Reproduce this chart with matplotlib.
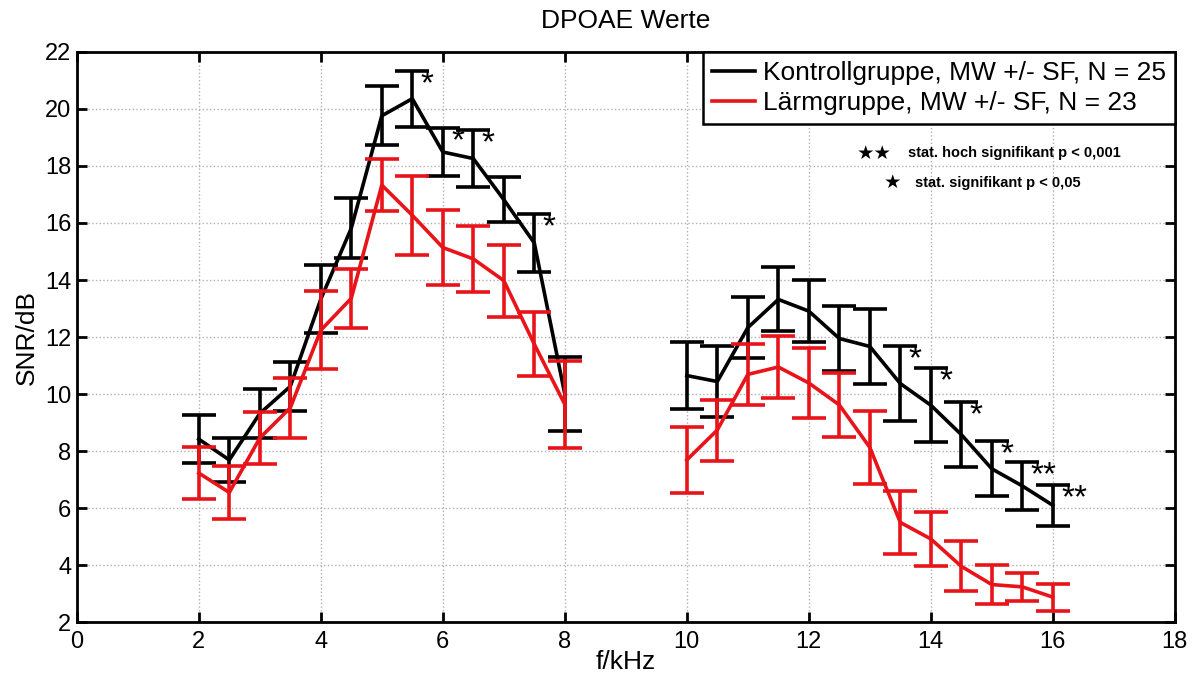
import numpy as np
import matplotlib
matplotlib.use('Agg')
import matplotlib.pyplot as plt

plt.rcParams['font.family'] = ['Liberation Sans', 'DejaVu Sans']

# Frequencies (kHz), two measured ranges
freq_low = [2, 2.5, 3, 3.5, 4, 4.5, 5, 5.5, 6, 6.5, 7, 7.5, 8]
freq_high = [10, 10.5, 11, 11.5, 12, 12.5, 13, 13.5, 14, 14.5, 15, 15.5, 16]

# Kontrollgruppe: mean and standard error
ctrl_low = [8.42, 7.69, 9.32, 10.27, 13.33, 15.82, 19.76, 20.36, 18.49, 18.26, 16.82, 15.3, 10.0]
ctrl_low_err = [0.83, 0.77, 0.85, 0.87, 1.2, 1.05, 1.04, 0.98, 0.83, 1.0, 0.79, 1.01, 1.3]
ctrl_high = [10.65, 10.44, 12.33, 13.32, 12.91, 11.95, 11.67, 10.37, 9.61, 8.58, 7.38, 6.78, 6.1]
ctrl_high_err = [1.17, 1.23, 1.07, 1.12, 1.1, 1.15, 1.33, 1.3, 1.29, 1.14, 0.97, 0.84, 0.72]

# Laermgruppe: mean and standard error
noise_low = [7.23, 6.55, 8.46, 9.52, 12.24, 13.36, 17.33, 16.27, 15.14, 14.74, 13.98, 11.75, 9.64]
noise_low_err = [0.91, 0.93, 0.91, 1.05, 1.37, 1.03, 0.92, 1.38, 1.31, 1.15, 1.26, 1.13, 1.52]
noise_high = [7.69, 8.74, 10.69, 10.95, 10.39, 9.62, 8.13, 5.5, 4.92, 3.96, 3.32, 3.24, 2.88]
noise_high_err = [1.16, 1.07, 1.07, 1.1, 1.22, 1.11, 1.28, 1.11, 0.94, 0.88, 0.68, 0.5, 0.47]

# Significance marks for the control group
sig_low = ['', '', '', '', '', '', '', '*', '*', '*', '', '*', '']
sig_high = ['', '', '', '', '', '', '', '*', '*', '*', '*', '**', '**']

fig = plt.figure(figsize=(12, 6.83), dpi=100)
ax = fig.add_axes([0.064, 0.089, 0.915, 0.835])

style = dict(linewidth=2.6, elinewidth=2.6, capsize=12.5, capthick=2.6)
for f, m, e in [(freq_low, ctrl_low, ctrl_low_err), (freq_high, ctrl_high, ctrl_high_err)]:
    ax.errorbar(f, m, yerr=e, color='black', **style, zorder=3)
for f, m, e in [(freq_low, noise_low, noise_low_err), (freq_high, noise_high, noise_high_err)]:
    ax.errorbar(f, m, yerr=e, color='#e8141a', **style, zorder=4)

# Legend proxies
ax.plot([], [], color='black', linewidth=2.6, label='Kontrollgruppe, MW +/- SF, N = 25')
ax.plot([], [], color='#e8141a', linewidth=2.6, label='Lärmgruppe, MW +/- SF, N = 23')

for f, m, e, s in zip(freq_low + freq_high, ctrl_low + ctrl_high,
                      ctrl_low_err + ctrl_high_err, sig_low + sig_high):
    if s:
        ax.annotate(s, (f, m + e), xytext=(6, -16), textcoords='offset points',
                    ha='left', va='baseline', fontsize=24, color='black', zorder=5)

ax.text(13.08, 18.42, '★★', fontsize=14, ha='center', va='center')
ax.text(13.62, 18.46, 'stat. hoch signifikant p < 0,001', fontsize=10.5, fontweight='bold', va='center')
ax.text(13.38, 17.38, '★', fontsize=14, ha='center', va='center')
ax.text(13.74, 17.4, 'stat. signifikant p < 0,05', fontsize=10.5, fontweight='bold', va='center')

ax.set_xlim(0, 18)
ax.set_ylim(2, 22)
ax.set_xticks(np.arange(0, 19, 2))
ax.set_yticks(np.arange(2, 23, 2))
ax.grid(True, color='#b0b0b0', linestyle=':', linewidth=1.0)
ax.set_axisbelow(True)
ax.tick_params(direction='in', length=7, width=2, top=True, right=True, labelsize=17)
ax.tick_params(axis='x', pad=6)
ax.tick_params(axis='y', pad=4)
for sp in ax.spines.values():
    sp.set_linewidth(2)

ax.set_xlabel('f/kHz', fontsize=19, labelpad=-2)
ax.set_ylabel('SNR/dB', fontsize=19, labelpad=4)
ax.set_title('DPOAE Werte', fontsize=19, pad=17)

leg = ax.legend(loc='upper right', fontsize=19, frameon=True, fancybox=False,
                framealpha=1, edgecolor='black', borderpad=0.35, handlelength=1.6,
                handletextpad=0.3, labelspacing=0.22, borderaxespad=0)
leg.get_frame().set_linewidth(1.8)

fig.savefig('out.png', dpi=100)
